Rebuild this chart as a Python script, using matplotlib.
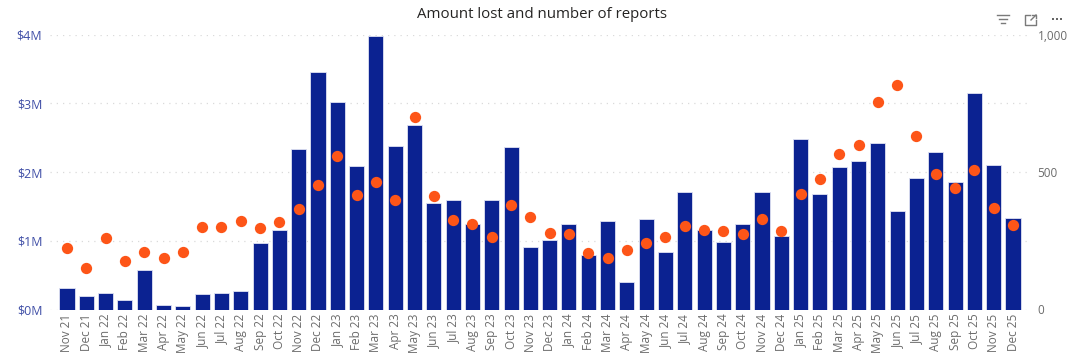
import matplotlib
matplotlib.use("Agg")
import matplotlib.pyplot as plt
from matplotlib.lines import Line2D
from matplotlib.patches import Rectangle

plt.rcParams["font.family"] = ["Open Sans", "DejaVu Sans"]

months = ["Nov 21", "Dec 21", "Jan 22", "Feb 22", "Mar 22", "Apr 22", "May 22", "Jun 22", "Jul 22", "Aug 22",
          "Sep 22", "Oct 22", "Nov 22", "Dec 22", "Jan 23", "Feb 23", "Mar 23", "Apr 23", "May 23", "Jun 23",
          "Jul 23", "Aug 23", "Sep 23", "Oct 23", "Nov 23", "Dec 23", "Jan 24", "Feb 24", "Mar 24", "Apr 24",
          "May 24", "Jun 24", "Jul 24", "Aug 24", "Sep 24", "Oct 24", "Nov 24", "Dec 24", "Jan 25", "Feb 25",
          "Mar 25", "Apr 25", "May 25", "Jun 25", "Jul 25", "Aug 25", "Sep 25", "Oct 25", "Nov 25", "Dec 25"]

# amount lost, $M
amount = [0.31, 0.20, 0.235, 0.145, 0.575, 0.065, 0.05, 0.23, 0.235, 0.27,
          0.97, 1.16, 2.33, 3.45, 3.02, 2.09, 3.98, 2.38, 2.68, 1.545,
          1.60, 1.25, 1.60, 2.37, 0.905, 1.015, 1.25, 0.79, 1.287, 0.395,
          1.32, 0.83, 1.715, 1.155, 0.977, 1.24, 1.71, 1.07, 2.485, 1.675,
          2.08, 2.155, 2.417, 1.43, 1.92, 2.29, 1.86, 3.155, 2.10, 1.33]

# number of reports
reports = [224, 151, 260, 176, 209, 187, 209, 300, 300, 322,
           296, 318, 365, 453, 558, 416, 464, 398, 699, 412,
           325, 312, 264, 379, 336, 279, 276, 206, 186, 215,
           242, 264, 304, 290, 285, 273, 330, 284, 421, 474,
           564, 599, 756, 815, 632, 494, 441, 508, 370, 306]

left_ticks = [0, 1, 2, 3, 4]
left_labels = ["$0M", "$1M", "$2M", "$3M", "$4M"]
right_ticks = [0, 500, 1000]
right_labels = ["0", "500", "1,000"]

W, H = 1071, 359
fig = plt.figure(figsize=(W / 100, H / 100), dpi=100)
x0, x1, ytop, ybot = 50, 1030, 34.5, 309.5
ax = fig.add_axes([x0 / W, 1 - ybot / H, (x1 - x0) / W, (ybot - ytop) / H])

x = list(range(len(months)))
ax.bar(x, amount, width=0.78, color="#0b2291", edgecolor="#dfe2f3", linewidth=0.6, zorder=2)
ax.set_xlim(-0.88, 49.88)
ax.set_ylim(0, 4)
ax.set_yticks(left_ticks)
ax.set_yticklabels(left_labels, fontsize=9, color="#3f4ea6")
ax.set_xticks(x)
ax.set_xticklabels(months, rotation=90, fontsize=8.5, color="#6b6b6b")
ax.tick_params(axis="both", length=0)
ax.tick_params(axis="y", pad=5.5)
ax.tick_params(axis="x", pad=3)
ax.grid(axis="y", color="#dadada", linestyle=(0, (1, 4)), linewidth=0.9, zorder=0)
ax.set_axisbelow(True)
for s in ax.spines.values():
    s.set_visible(False)

ax2 = ax.twinx()
ax2.scatter(x, reports, s=66, color="#fd5518", linewidths=0, zorder=3)
ax2.set_ylim(0, 1000)
ax2.set_yticks(right_ticks)
ax2.set_yticklabels(right_labels, fontsize=8.5, color="#6b6b6b")
ax2.tick_params(axis="y", length=0, pad=5.5)
for s in ax2.spines.values():
    s.set_visible(False)

fig.text(542 / W, 1 - 14.5 / H, "Amount lost and number of reports", ha="center", va="center",
         fontsize=10.8, color="#252423")


# header icons (filter, expand, more)
def px_line(xs, ys, lw=1.0):
    fig.add_artist(Line2D([a / W for a in xs], [1 - b / H for b in ys], color="#7a7a7a", linewidth=lw))


px_line([997, 1009], [15, 15])
px_line([999, 1007], [19, 19])
px_line([1001, 1005], [23, 23])
px_line([1030, 1025, 1025, 1036, 1036], [15, 15, 25, 25, 20])
px_line([1031, 1036], [20, 15])
px_line([1032, 1036, 1036], [15, 15, 18])
for cx in [1053, 1057, 1061]:
    fig.add_artist(Rectangle(((cx - 1) / W, 1 - 20 / H), 2 / W, 2 / H, color="#666666", linewidth=0))

fig.savefig("out.png", dpi=100)
